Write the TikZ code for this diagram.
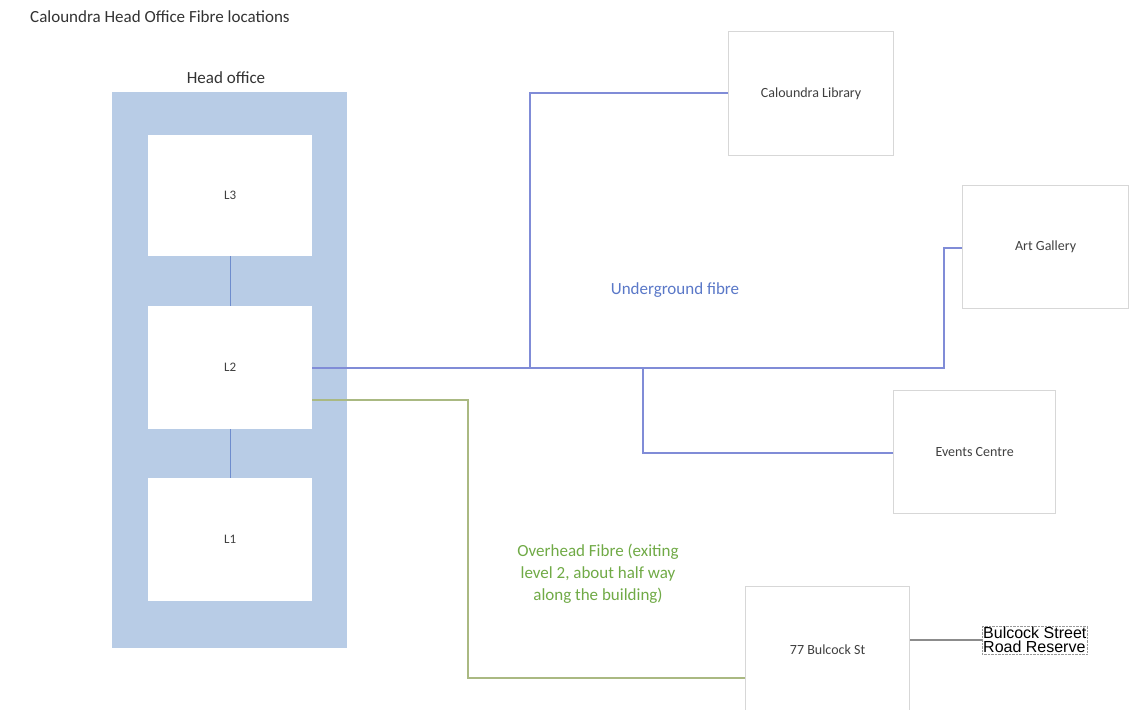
\documentclass[tikz,border=0pt]{standalone}
\usepackage{fontspec}
\setmainfont{Carlito}
\newfontfamily\arialf{Liberation Sans}
\definecolor{hofill}{RGB}{184,204,230}
\definecolor{uline}{RGB}{128,140,215}
\definecolor{utext}{RGB}{90,120,200}
\definecolor{gline}{RGB}{170,185,130}
\definecolor{gtext}{RGB}{112,170,70}
\definecolor{bord}{RGB}{215,215,215}
\definecolor{lcon}{RGB}{110,140,205}
\tikzset{
  x=1pt,y=-1pt,
  site/.style={draw=bord,line width=1.2pt,fill=white,minimum width=#1,inner sep=0pt,font=\fontsize{14}{16}\selectfont,text=black!75},
  level/.style={fill=white,inner sep=0pt,font=\fontsize{13}{15}\selectfont,text=black!75},
  ufib/.style={draw=uline,line width=1.2pt},
  gfib/.style={draw=gline,line width=1.2pt},
}
\begin{document}
\begin{tikzpicture}
\useasboundingbox (0,0) rectangle (1139,709);
\fill[white] (0,0) rectangle (1139,709);
% title
\node[anchor=west,font=\fontsize{17}{19}\selectfont,text=black!80,inner sep=0pt] (title) at (30,17) {Caloundra Head Office Fibre locations};
\node[font=\fontsize{17}{19}\selectfont,text=black!80] (holab) at (226,78) {Head office};
% head office block
\node[fill=hofill,minimum width=235,minimum height=556,inner sep=0pt,anchor=north west] (ho) at (112,92) {};
\node[level,minimum width=164,minimum height=121,anchor=north west] (l3) at (148,135) {L3};
\node[level,minimum width=164,minimum height=123,anchor=north west] (l2) at (148,306) {L2};
\node[level,minimum width=164,minimum height=123,anchor=north west] (l1) at (148,478) {L1};
\draw[lcon,line width=1.2pt] (l3.south) -- (l2.north);
\draw[lcon,line width=1.2pt] (l2.south) -- (l1.north);
% sites
\node[site=165,minimum height=124,anchor=north west] (lib) at (728,31) {Caloundra Library};
\node[site=166,minimum height=123,anchor=north west] (art) at (962,185) {Art Gallery};
\node[site=162,minimum height=123,anchor=north west] (ev) at (893,390) {Events Centre};
\node[site=164,minimum height=126,anchor=north west] (bul) at (745,586) {77 Bulcock St};
\node[draw=black!40,densely dotted,inner sep=1pt,align=left,font=\arialf\fontsize{16}{14}\selectfont,anchor=west] (rr) at (982,640) {Bulcock Street\\Road Reserve};
% underground fibre
\coordinate (j1) at (530,368);
\coordinate (j2) at (643,368);
\draw[ufib] (l2.east |- 0,368) -- (944,368) -- (944,248) -- (art.west |- 0,248);
\draw[ufib] (j1) -- (530,93) -- (lib.west |- 0,93);
\draw[ufib] (j2) -- (643,453) -- (ev.west |- 0,453);
\node[text=utext,font=\fontsize{17}{19}\selectfont] (ulab) at (675,290) {Underground fibre};
% overhead fibre
\draw[gfib] (l2.east |- 0,400) -- (468,400) -- (468,678) -- (bul.west |- 0,678);
\node[text=gtext,align=center,font=\fontsize{17}{22}\selectfont] (olab) at (598,574) {Overhead Fibre (exiting\\level 2, about half way\\along the building)};
% road reserve
\draw[black!45,line width=1.5pt] (bul.east |- 0,640) -- (rr.west);
\end{tikzpicture}
\end{document}
